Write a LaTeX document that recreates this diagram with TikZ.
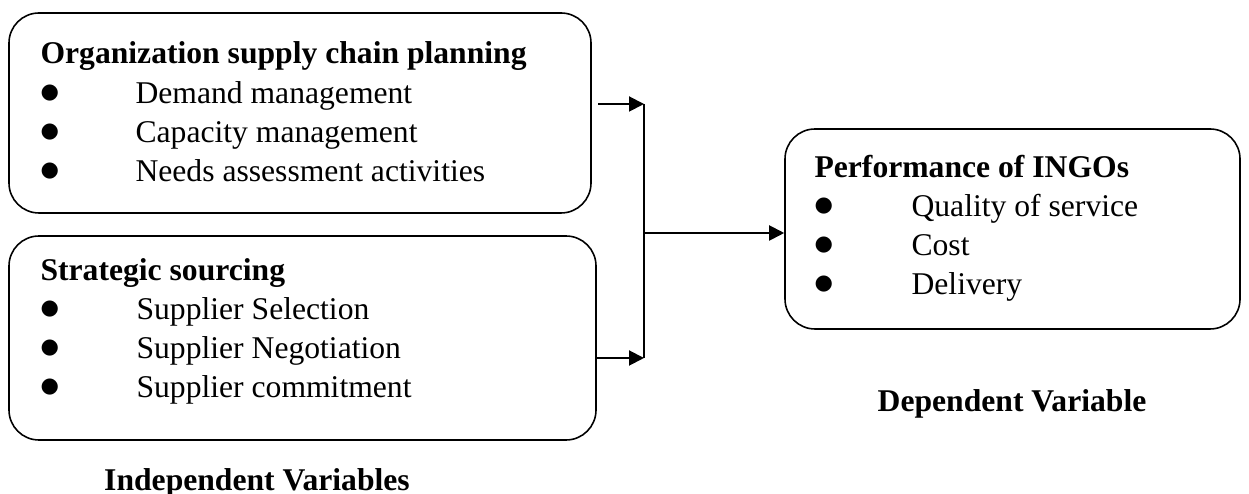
\documentclass[tikz,border=0pt]{standalone}
\usepackage{fontspec}
\setmainfont{Liberation Serif}
\newfontfamily\dotfont{DejaVu Sans}
\usepackage{tikz}
\usetikzlibrary{arrows.meta,positioning}
\newcommand{\bulletrow}[2][1.9cm]{\makebox[#1][l]{\raisebox{2.8pt}{\dotfont\fontsize{12}{12}\selectfont ●}}#2}

\begin{document}
\begin{tikzpicture}[
  varbox/.style={draw=black, line width=0.9pt, rounded corners=0.6cm, inner sep=0pt},
  boxtext/.style={align=left, inner sep=0pt, font=\fontsize{18}{22.3}\selectfont},
  caption/.style={inner sep=0pt, font=\fontsize{18}{22.3}\selectfont\bfseries},
  link/.style={line width=1.1pt, -{Triangle[length=0.3cm,width=0.3cm]}}
]
\useasboundingbox (0,0) rectangle (24.98,9.88);

% independent variables
\node[varbox, minimum width=11.64cm, minimum height=4cm] (org) at (6.0,7.62) {};
\node[boxtext, below right=0.59cm and 0.64cm of org.north west] (orgtext)
  {\textbf{Organization supply chain planning}\\
   \bulletrow{Demand management}\\
   \bulletrow{Capacity management}\\
   \bulletrow{Needs assessment activities}};

\node[varbox, minimum width=11.74cm, minimum height=4.08cm] (src) at (6.05,3.12) {};
\node[boxtext, below right=0.45cm and 0.64cm of src.north west] (srctext)
  {\textbf{Strategic sourcing}\\
   \bulletrow[1.92cm]{Supplier Selection}\\
   \bulletrow[1.92cm]{Supplier Negotiation}\\
   \bulletrow[1.92cm]{Supplier commitment}};

% dependent variable
\node[varbox, minimum width=9.1cm, minimum height=4cm] (perf) at (20.25,5.3) {};
\node[boxtext, below right=0.53cm and 0.6cm of perf.north west] (perftext)
  {\textbf{Performance of INGOs}\\
   \bulletrow[1.94cm]{Quality of service}\\
   \bulletrow[1.94cm]{Cost}\\
   \bulletrow[1.94cm]{Delivery}};

% connectors
\coordinate (tstart) at (11.96,7.8);
\coordinate (jtop) at (12.88,7.8);
\coordinate (jbot) at (12.88,2.72);
\coordinate (jmid) at (12.88,5.22);
\draw[link] (tstart) -- (jtop);
\draw[link] (src.east |- jbot) -- (jbot);
\draw[line width=1.1pt] (jtop) -- (jbot);
\draw[link] (jmid) -- (perf.west |- jmid);

\node[caption, anchor=base] (deplabel) at (20.24,1.64) {Dependent Variable};
\node[caption, anchor=base] (indlabel) at (5.14,0.06) {Independent Variables};
\end{tikzpicture}
\end{document}
